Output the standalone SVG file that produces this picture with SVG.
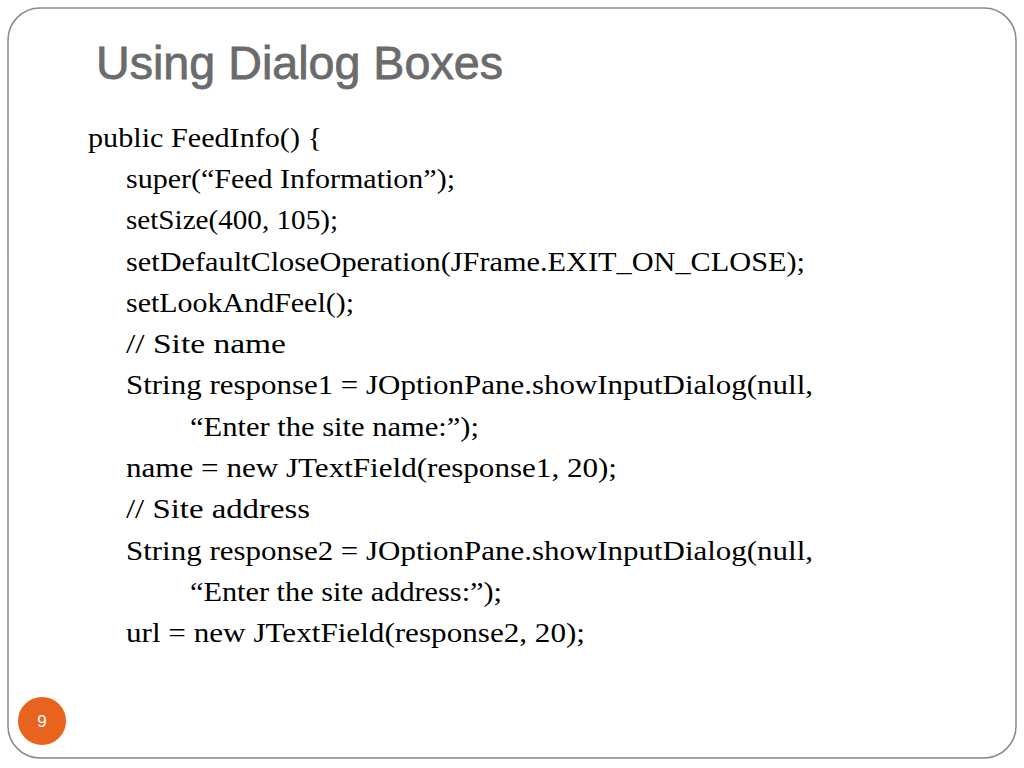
<svg xmlns="http://www.w3.org/2000/svg" width="1024" height="768" viewBox="0 0 1024 768">
<style>
.b{font-family:"Liberation Serif",serif;font-size:27px;fill:#000}
</style>
<rect width="1024" height="768" fill="#fff"/>
<rect x="8" y="8" width="1008" height="750" rx="32" fill="none" stroke="#888" stroke-width="1.5"/>
<text x="96" y="79" font-family="Liberation Sans,sans-serif" font-size="47" fill="#6b6b6b" stroke="#6b6b6b" stroke-width="0.8" textLength="407" lengthAdjust="spacingAndGlyphs">Using Dialog Boxes</text>
<g id="code">
<text class="b" x="88" y="147" textLength="234" lengthAdjust="spacingAndGlyphs">public FeedInfo() {</text>
<text class="b" x="126" y="188" textLength="329" lengthAdjust="spacingAndGlyphs">super(“Feed Information”);</text>
<text class="b" x="126" y="229" textLength="212" lengthAdjust="spacingAndGlyphs">setSize(400, 105);</text>
<text class="b" x="126" y="271" textLength="679" lengthAdjust="spacingAndGlyphs">setDefaultCloseOperation(JFrame.EXIT_ON_CLOSE);</text>
<text class="b" x="126" y="312" textLength="228" lengthAdjust="spacingAndGlyphs">setLookAndFeel();</text>
<text class="b" x="126" y="353" textLength="160" lengthAdjust="spacingAndGlyphs">// Site name</text>
<text class="b" x="126" y="394" textLength="687" lengthAdjust="spacingAndGlyphs">String response1 = JOptionPane.showInputDialog(null,</text>
<text class="b" x="190" y="436" textLength="289" lengthAdjust="spacingAndGlyphs">“Enter the site name:”);</text>
<text class="b" x="126" y="477" textLength="491" lengthAdjust="spacingAndGlyphs">name = new JTextField(response1, 20);</text>
<text class="b" x="126" y="518" textLength="184" lengthAdjust="spacingAndGlyphs">// Site address</text>
<text class="b" x="126" y="560" textLength="687" lengthAdjust="spacingAndGlyphs">String response2 = JOptionPane.showInputDialog(null,</text>
<text class="b" x="190" y="601" textLength="312" lengthAdjust="spacingAndGlyphs">“Enter the site address:”);</text>
<text class="b" x="126" y="642" textLength="459" lengthAdjust="spacingAndGlyphs">url = new JTextField(response2, 20);</text>
</g>
<g id="pagenum">
<circle cx="42" cy="721" r="25" fill="#e8641e" stroke="#fff" stroke-width="2"/>
<text x="42" y="727" text-anchor="middle" font-family="Liberation Sans,sans-serif" font-size="17" fill="#fff">9</text>
</g>
</svg>
